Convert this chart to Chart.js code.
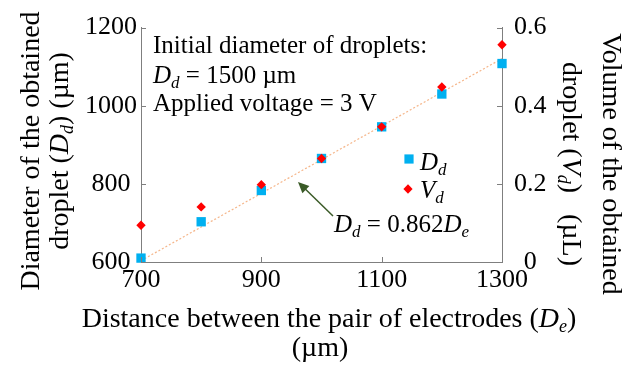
<!DOCTYPE html>
<html>
<head>
<meta charset="utf-8">
<script src="https://cdn.jsdelivr.net/npm/chart.js@4.4.1/dist/chart.umd.min.js"></script>
<style>
  html, body { margin: 0; padding: 0; background: #fff; }
  canvas { display: block; }
</style>
</head>
<body>
<canvas id="grafico" width="633" height="366"></canvas>
<script>
// Distância entre eletrodos (µm)
const distancias = [700, 800, 900, 1000, 1100, 1200, 1300];
// Diâmetro da gota obtida Dd (µm)
const diametros = [610, 703, 783, 865, 946, 1030, 1108];
// Volume da gota obtida Vd (µL)
const volumes = [0.094, 0.141, 0.198, 0.265, 0.346, 0.448, 0.556];
// Ajuste linear Dd = 0.862 De
const coefAjuste = 0.862;
const ajusteX = [700, 1300];

const xTicks = [700, 900, 1100, 1300];
const yTicks = [600, 800, 1000, 1200];
const y2Ticks = [0, 0.2, 0.4, 0.6];

const serif = '"Liberation Serif", "Times New Roman", serif';
const cinzaEixo = '#7f7f7f';
const azul = '#00b0f0';
const vermelho = '#ff0000';

// Texto com partes normais, itálicas e subscritas
function fonte(tam, italico) {
    return (italico ? 'italic ' : '') + tam + 'px ' + serif;
}
function larguraRica(ctx, partes, tam) {
    let w = 0;
    partes.forEach(([t, k]) => {
        const sub = k === 's';
        ctx.font = fonte(sub ? Math.round(tam * 0.66) : tam, k !== 'n');
        w += ctx.measureText(t).width;
    });
    return w;
}
function textoRico(ctx, partes, x, y, tam, alinhar) {
    const w = larguraRica(ctx, partes, tam);
    let px = alinhar === 'center' ? x - w / 2 : x;
    ctx.textBaseline = 'alphabetic';
    ctx.textAlign = 'left';
    partes.forEach(([t, k]) => {
        const sub = k === 's';
        ctx.font = fonte(sub ? Math.round(tam * 0.66) : tam, k !== 'n');
        ctx.fillText(t, px, sub ? y + tam * 0.18 : y);
        px += ctx.measureText(t).width;
    });
}

const extras = {
    id: 'extras',
    afterDraw(chart) {
        const { ctx, chartArea: a, scales } = chart;
        ctx.save();

        // Marcas dos eixos voltadas para dentro
        ctx.strokeStyle = cinzaEixo;
        ctx.lineWidth = 1;
        ctx.beginPath();
        yTicks.forEach(v => {
            const py = Math.round(scales.y.getPixelForValue(v)) + 0.5;
            ctx.moveTo(a.left, py); ctx.lineTo(a.left + 5, py);
        });
        y2Ticks.forEach(v => {
            const py = Math.round(scales.y2.getPixelForValue(v)) + 0.5;
            ctx.moveTo(a.right, py); ctx.lineTo(a.right - 5, py);
        });
        xTicks.forEach(v => {
            const px = Math.round(scales.x.getPixelForValue(v)) + 0.5;
            ctx.moveTo(px, a.bottom); ctx.lineTo(px, a.bottom - 5);
        });
        ctx.stroke();

        ctx.fillStyle = '#000';
        const T = 25;   // textos internos
        const TT = 28;  // títulos dos eixos

        // Título do eixo esquerdo
        ctx.save();
        ctx.translate(39, 151);
        ctx.rotate(-Math.PI / 2);
        textoRico(ctx, [['Diameter of the obtained', 'n']], 0, 0, TT, 'center');
        textoRico(ctx, [['droplet (', 'n'], ['D', 'i'], ['d', 's'], [') (µm)', 'n']], 0, 29, TT, 'center');
        ctx.restore();

        // Título do eixo direito
        ctx.save();
        ctx.translate(603, 164);
        ctx.rotate(Math.PI / 2);
        textoRico(ctx, [['Volume of the obtained', 'n']], 0, 0, TT, 'center');
        textoRico(ctx, [['droplet (', 'n'], ['V', 'i'], ['d', 's'], [')   (µL)', 'n']], 0, 40, TT, 'center');
        ctx.restore();

        // Título do eixo x
        textoRico(ctx, [['Distance between the pair of electrodes (', 'n'], ['D', 'i'], ['e', 's'], [')', 'n']], 329, 327, TT, 'center');
        textoRico(ctx, [['(µm)', 'n']], 320, 356, TT, 'center');

        // Condições do ensaio
        textoRico(ctx, [['Initial diameter of droplets:', 'n']], 153, 53, T, 'left');
        textoRico(ctx, [['D', 'i'], ['d', 's'], [' = 1500 µm', 'n']], 153, 83, T, 'left');
        textoRico(ctx, [['Applied voltage = 3 V', 'n']], 153, 111, T, 'left');

        // Legenda
        ctx.fillStyle = azul;
        ctx.beginPath();
        ctx.rect(409 - 4.6, 159 - 4.6, 9.2, 9.2);
        ctx.fill();
        ctx.fillStyle = vermelho;
        ctx.beginPath();
        ctx.moveTo(408 - 4.6, 189); ctx.lineTo(408, 189 - 4.8);
        ctx.lineTo(408 + 4.6, 189); ctx.lineTo(408, 189 + 4.8);
        ctx.closePath();
        ctx.fill();
        ctx.fillStyle = '#000';
        textoRico(ctx, [['D', 'i'], ['d', 's']], 420, 170, T, 'left');
        textoRico(ctx, [['V', 'i'], ['d', 's']], 420, 198, T, 'left');

        // Equação do ajuste com seta
        textoRico(ctx, [['D', 'i'], ['d', 's'], [' = 0.862', 'n'], ['D', 'i'], ['e', 's']], 334, 232, T, 'left');
        const x0 = 333, y0 = 216, x1 = 298, y1 = 182;
        const ang = Math.atan2(y1 - y0, x1 - x0);
        ctx.strokeStyle = '#3a5a27';
        ctx.fillStyle = '#3a5a27';
        ctx.lineWidth = 1.5;
        ctx.beginPath();
        ctx.moveTo(x0, y0);
        ctx.lineTo(x1 - Math.cos(ang) * 8, y1 - Math.sin(ang) * 8);
        ctx.stroke();
        ctx.beginPath();
        ctx.moveTo(x1, y1);
        ctx.lineTo(x1 - Math.cos(ang) * 11 + Math.sin(ang) * 5, y1 - Math.sin(ang) * 11 - Math.cos(ang) * 5);
        ctx.lineTo(x1 - Math.cos(ang) * 11 - Math.sin(ang) * 5, y1 - Math.sin(ang) * 11 + Math.cos(ang) * 5);
        ctx.closePath();
        ctx.fill();

        ctx.restore();
    }
};

const ctx = document.getElementById('grafico').getContext('2d');

new Chart(ctx, {
    type: 'scatter',
    data: {
        datasets: [
            {
                label: 'Ajuste',
                data: ajusteX.map(x => ({ x, y: coefAjuste * x })),
                showLine: true,
                borderColor: 'rgba(244, 177, 131, 0.95)',
                borderWidth: 1.2,
                borderDash: [2, 2],
                pointRadius: 0,
                yAxisID: 'y',
                clip: false,
                order: 2
            },
            {
                label: 'Dd',
                data: distancias.map((x, i) => ({ x, y: diametros[i] })),
                pointStyle: 'rect',
                pointRadius: 6.6,
                pointBackgroundColor: azul,
                pointBorderWidth: 0,
                yAxisID: 'y',
                clip: false,
                order: 1
            },
            {
                label: 'Vd',
                data: distancias.map((x, i) => ({ x, y: volumes[i] })),
                pointStyle: 'rectRot',
                pointRadius: 4.7,
                pointBackgroundColor: vermelho,
                pointBorderWidth: 0,
                yAxisID: 'y2',
                clip: false,
                order: 0
            }
        ]
    },
    options: {
        responsive: false,
        animation: false,
        devicePixelRatio: 1,
        layout: { padding: { top: 23, left: 0, right: 0, bottom: 0 } },
        plugins: {
            legend: { display: false },
            tooltip: { enabled: false }
        },
        scales: {
            x: {
                type: 'linear',
                min: 700,
                max: 1300,
                afterFit: s => { s.height = 104; },
                afterBuildTicks: s => { s.ticks = xTicks.map(v => ({ value: v })); },
                border: { display: true, color: cinzaEixo, width: 1 },
                grid: { display: false, drawTicks: false },
                ticks: {
                    padding: 3,
                    maxRotation: 0,
                    autoSkip: false,
                    color: '#000',
                    font: { family: serif, size: 26 },
                    callback: v => String(v)
                }
            },
            y: {
                position: 'left',
                min: 600,
                max: 1200,
                afterFit: s => { s.width = 141; },
                afterBuildTicks: s => { s.ticks = yTicks.map(v => ({ value: v })); },
                border: { display: true, color: cinzaEixo, width: 1 },
                grid: { display: false, drawTicks: false },
                ticks: {
                    padding: 4,
                    crossAlign: 'center',
                    color: '#000',
                    font: { family: serif, size: 26 },
                    callback: v => String(v)
                }
            },
            y2: {
                position: 'right',
                min: 0,
                max: 0.6,
                afterFit: s => { s.width = 131; },
                afterBuildTicks: s => { s.ticks = y2Ticks.map(v => ({ value: v })); },
                border: { display: true, color: cinzaEixo, width: 1 },
                grid: { display: false, drawTicks: false },
                ticks: {
                    padding: 12,
                    crossAlign: 'center',
                    color: '#000',
                    font: { family: serif, size: 26 },
                    callback: v => v === 0 ? '0' : v.toFixed(1)
                }
            }
        }
    },
    plugins: [extras]
});
</script>
</body>
</html>
